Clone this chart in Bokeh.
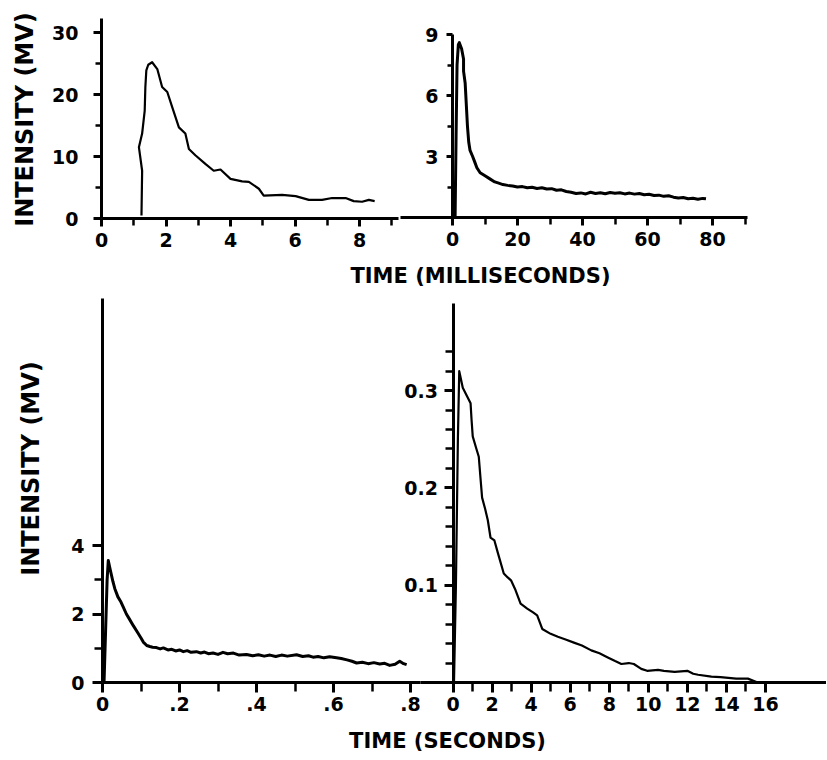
from math import pi
from bokeh.plotting import figure
from bokeh.models import Range1d, LinearAxis, FixedTicker, Label
from bokeh.embed import file_html
from bokeh.resources import INLINE

# ---------------- data ----------------
# top-left: intensity (mV) vs time (ms), 0-9 ms
ms_short_time = [1.24, 1.26, 1.16, 1.26, 1.34, 1.36, 1.39, 1.45, 1.57, 1.73, 1.88, 2.04,
                 2.19, 2.40, 2.60, 2.71, 2.91, 3.22, 3.48, 3.69, 4.0, 4.36, 4.57, 4.88,
                 5.03, 5.60, 6.02, 6.43, 6.84, 7.15, 7.57, 7.82, 8.08, 8.29, 8.47]
ms_short_mv = [0.5, 7.7, 11.5, 13.7, 17.4, 21.2, 23.9, 24.8, 25.2, 24.1, 21.2, 20.4,
               18.0, 14.7, 13.7, 11.2, 10.2, 8.8, 7.7, 7.9, 6.4, 6.0, 5.9, 4.8,
               3.7, 3.8, 3.6, 3.0, 3.0, 3.3, 3.3, 2.8, 2.7, 3.0, 2.8]

# top-right: intensity (mV) vs time (ms), 0-80 ms
ms_long_time = [0.8, 1.1, 1.4, 1.8, 2.1, 2.8, 3.4, 3.4, 3.9, 4.3, 4.6, 5.0, 5.4, 6.2, 6.8,
                7.5, 8.5, 10, 11.5, 13, 14, 15.5, 17, 18.5, 20, 21.5, 23, 24.5, 26, 27.5,
                29, 30.5, 32, 33.5, 35, 36.5, 38, 39.5, 41, 42.5, 44, 45.5, 47, 48.5, 50,
                51.5, 53, 54.5, 56, 57.5, 59, 60.5, 62, 63.5, 65, 66.5, 68, 69.5, 71, 72.5,
                74, 75.5, 77, 78]
ms_long_mv = [0.0, 4.0, 7.5, 8.5, 8.6, 8.3, 7.8, 7.2, 6.6, 5.4, 4.5, 3.7, 3.3, 3.0, 2.75,
              2.45, 2.2, 2.05, 1.9, 1.75, 1.7, 1.62, 1.58, 1.55, 1.5, 1.52, 1.46, 1.49, 1.43, 1.46,
              1.40, 1.42, 1.34, 1.36, 1.28, 1.24, 1.18, 1.21, 1.16, 1.24, 1.18, 1.22, 1.17, 1.23, 1.19,
              1.22, 1.16, 1.2, 1.15, 1.18, 1.12, 1.14, 1.08, 1.1, 1.04, 1.07, 1.0, 0.96, 0.98, 0.92,
              0.95, 0.9, 0.94, 0.92]

# bottom-left: intensity (mV) vs time (s), 0-0.8 s
s_short_time = [0.004, 0.008, 0.012, 0.015, 0.02, 0.027, 0.032, 0.04, 0.048, 0.054, 0.062,
                0.07, 0.08, 0.09, 0.1, 0.106, 0.115, 0.123, 0.13, 0.14, 0.15, 0.158, 0.17,
                0.18, 0.19, 0.2, 0.21, 0.22, 0.23, 0.244, 0.255, 0.265, 0.275, 0.287, 0.3,
                0.313, 0.325, 0.34, 0.355, 0.374, 0.39, 0.405, 0.42, 0.435, 0.45, 0.465,
                0.48, 0.504, 0.52, 0.535, 0.547, 0.56, 0.575, 0.59, 0.608, 0.62, 0.635,
                0.648, 0.66, 0.675, 0.69, 0.705, 0.72, 0.733, 0.746, 0.76, 0.772, 0.782, 0.79]
s_short_mv = [0.0, 1.5, 3.0, 3.56, 3.3, 2.95, 2.74, 2.5, 2.35, 2.2, 2.0,
              1.85, 1.66, 1.48, 1.3, 1.18, 1.08, 1.05, 1.03, 1.02, 0.98, 1.01, 0.95,
              0.97, 0.92, 0.95, 0.9, 0.93, 0.88, 0.9, 0.86, 0.89, 0.84, 0.86, 0.82,
              0.88, 0.84, 0.86, 0.8, 0.82, 0.78, 0.81, 0.77, 0.8, 0.76, 0.8,
              0.77, 0.81, 0.76, 0.78, 0.74, 0.76, 0.72, 0.75, 0.72, 0.7, 0.66,
              0.62, 0.57, 0.59, 0.55, 0.58, 0.54, 0.56, 0.5, 0.53, 0.62, 0.55, 0.52]

# bottom-right: intensity (mV) vs time (s), 0-16 s
s_long_time = [0.05, 0.15, 0.25, 0.32, 0.5, 0.7, 0.9, 0.95, 1.01, 1.2, 1.32, 1.4, 1.49,
               1.65, 1.78, 1.92, 2.12, 2.3, 2.6, 2.8, 2.97, 3.2, 3.46, 3.8, 4.1, 4.31,
               4.57, 5.0, 5.37, 5.8, 6.19, 6.6, 7.08, 7.5, 7.9, 8.3, 8.62, 9.0, 9.26,
               9.64, 9.94, 10.5, 10.8, 11.35, 12.0, 12.3, 12.55, 13.23, 13.7, 14.5, 15.1, 15.6]
s_long_mv = [0.0, 0.1, 0.25, 0.32, 0.303, 0.295, 0.287, 0.27, 0.253, 0.24, 0.232, 0.212, 0.19,
             0.178, 0.167, 0.149, 0.146, 0.133, 0.112, 0.108, 0.105, 0.095, 0.081, 0.076, 0.072, 0.069,
             0.055, 0.050, 0.047, 0.044, 0.041, 0.038, 0.033, 0.030, 0.026, 0.022, 0.019, 0.020, 0.019,
             0.014, 0.012, 0.013, 0.012, 0.011, 0.012, 0.009, 0.008, 0.006, 0.0055, 0.004, 0.004, 0.0]

# ticks
tl_x_major = [0, 2, 4, 6, 8]
tl_x_minor = [1, 3, 5, 7, 9]
tl_y_major = [0, 10, 20, 30]
tl_y_minor = [5, 15, 25]
tr_x_major = [0, 20, 40, 60, 80]
tr_x_minor = [10, 30, 50, 70, 90]
tr_y_major = [3, 6, 9]
tr_y_minor = [1.5, 4.5, 7.5]
bl_x_major = [0, 0.2, 0.4, 0.6, 0.8]
bl_x_minor = [0.1, 0.3, 0.5, 0.7]
bl_x_labels = ["0", ".2", ".4", ".6", ".8"]
bl_y_major = [0, 2, 4]
bl_y_minor = [1, 3]
br_x_major = [0, 2, 4, 6, 8, 10, 12, 14, 16]
br_x_minor = [1, 3, 5, 7, 9, 11, 13, 15]
br_y_major = [0.1, 0.2, 0.3]
br_y_minor = [0.02, 0.04, 0.06, 0.08, 0.12, 0.14, 0.16, 0.18,
              0.22, 0.24, 0.26, 0.28, 0.32, 0.34]

title_ms = "TIME (MILLISECONDS)"
title_s = "TIME (SECONDS)"
title_y = "INTENSITY (MV)"

# ---------------- layout ----------------
W, H = 826, 758
FL, FR, FT, FB = 0, W, 0, H   # frame edges in page pixels

def xr(px0, ppu):
    return Range1d(-(px0 - FL) / ppu, (FR - px0) / ppu)

def yr(py0, ppu):
    return Range1d(-(FB - py0) / ppu, (py0 - FT) / ppu)

p = figure(width=W, height=H, output_backend="svg", toolbar_location=None,
           x_axis_type=None, y_axis_type=None,
           x_range=Range1d(FL, FR), y_range=Range1d(FB, FT),
           min_border=0, outline_line_color=None,
           background_fill_color="white", border_fill_color="white")

p.extra_x_ranges = {"A": xr(101, 32.25), "B": xr(452, 3.25),
                    "C": xr(102, 385), "D": xr(452.5, 19.53)}
p.extra_y_ranges = {"A": yr(218, 6.2), "B": yr(217, 20.33),
                    "C": yr(682, 34.25), "D": yr(682, 973)}

FONT = "DejaVu Sans"

def add_axis(side, name, bounds, major, minor, tick_out, minor_out, standoff, overrides=None):
    ax = LinearAxis(x_range_name=name, y_range_name=name, fixed_location=0, bounds=bounds,
                    ticker=FixedTicker(ticks=major, minor_ticks=minor),
                    axis_line_width=3, axis_line_color="black",
                    major_tick_line_width=3, minor_tick_line_width=2.5,
                    major_tick_line_color="black", minor_tick_line_color="black",
                    major_tick_in=0, major_tick_out=tick_out,
                    minor_tick_in=0, minor_tick_out=minor_out,
                    major_label_standoff=standoff,
                    major_label_text_font=FONT, major_label_text_font_style="bold",
                    major_label_text_font_size="19px", major_label_text_color="black")
    if overrides:
        ax.major_label_overrides = overrides
    p.add_layout(ax, side)

add_axis("below", "A", (0, 9.2), tl_x_major, tl_x_minor, 8, 7, 6)
add_axis("left", "A", (0, 32.3), tl_y_major, tl_y_minor, 8, 6, 15)
add_axis("below", "B", (-16, 90.8), tr_x_major, tr_x_minor, 8, 7, 6)
add_axis("left", "B", (0, 9), tr_y_major, tr_y_minor, 6, 5, 8)
add_axis("below", "C", (0, 0.826), bl_x_major, bl_x_minor, 10, 9, 4,
         overrides={v: t for v, t in zip(bl_x_major, bl_x_labels)})
add_axis("left", "C", (0, 11.2), bl_y_major, bl_y_minor, 10, 8, 8)
add_axis("below", "D", (-1.66, 19.2), br_x_major, br_x_minor, 10, 9, 4)
add_axis("left", "D", (0, 0.39), br_y_major, br_y_minor, 9, 8, 6)

# curves
p.line(ms_short_time, ms_short_mv, x_range_name="A", y_range_name="A",
       line_color="black", line_width=2.2, line_join="round")
p.line(ms_long_time, ms_long_mv, x_range_name="B", y_range_name="B",
       line_color="black", line_width=3, line_join="round")
p.line(s_short_time, s_short_mv, x_range_name="C", y_range_name="C",
       line_color="black", line_width=3, line_join="round")
p.line(s_long_time, s_long_mv, x_range_name="D", y_range_name="D",
       line_color="black", line_width=2.2, line_join="round")

# titles
def add_title(text, x, y, size, angle=0):
    p.add_layout(Label(x=x, y=y, text=text, angle=angle, text_align="center",
                       text_baseline="middle", text_font=FONT, text_font_style="bold",
                       text_font_size=size, text_color="black"))

add_title(title_ms, 480, 275, "21px")
add_title(title_s, 447, 740, "21px")
add_title(title_y, 24, 119, "24px", angle=pi / 2)
add_title(title_y, 30, 468, "24px", angle=pi / 2)

open("out.html", "w").write(file_html(p, INLINE))
